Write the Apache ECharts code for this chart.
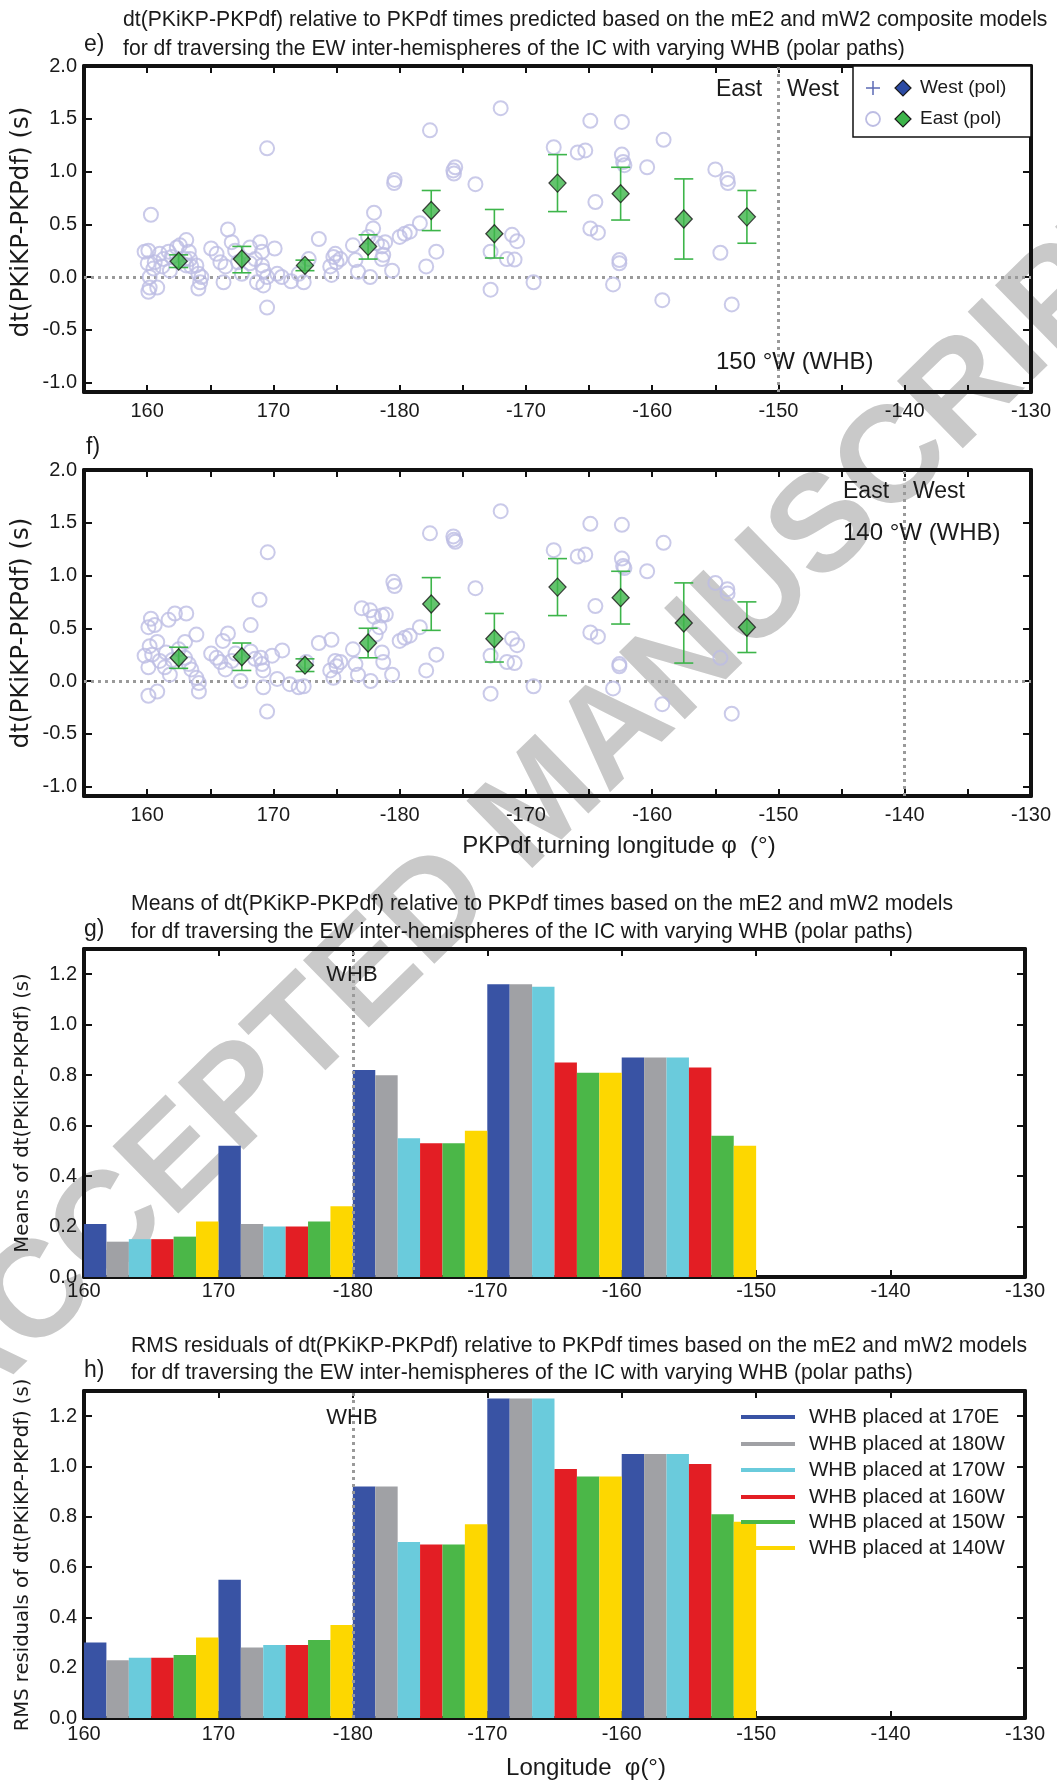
<!DOCTYPE html>
<html><head><meta charset="utf-8">
<script src="https://cdn.jsdelivr.net/npm/echarts@6/dist/echarts.min.js"></script>
<style>html,body{margin:0;padding:0;background:#fff}#c{width:1057px;height:1782px}</style>
</head><body><div id="c"></div>
<script>
// ---------------- DATA ----------------
// longitudes are continuous (0-360): 190 means -170 on the axis
const scatterE = [
 [169.5,1.22],[160.3,0.59],[159.8,0.24],[160.1,0.25],[160.05,0.13],[160.6,0.14],[161.0,0.22],[161.3,0.17],[161.7,0.24],[161.95,0.19],
 [162.35,0.28],[162.6,0.30],[163.1,0.35],[163.3,0.24],[163.4,0.17],[163.5,0.10],[163.9,0.11],[164.06,0.03],[164.3,0.0],[164.2,-0.05],
 [164.06,-0.11],[160.2,0.0],[160.2,-0.10],[160.1,-0.14],[160.8,-0.10],[160.5,0.08],[161.2,0.10],[161.8,0.06],[163.0,0.17],[163.1,0.11],
 [165.07,0.27],[165.5,0.22],[165.8,0.14],[166.2,0.10],[166.4,0.45],[166.7,0.33],[166.97,0.25],[167.2,0.14],[167.5,0.03],[166.05,-0.05],
 [168.15,0.28],[168.15,0.13],[168.55,0.17],[168.95,0.33],[169.1,0.24],[169.1,0.11],[169.2,0.06],[168.7,-0.05],[169.2,-0.08],[169.5,0.0],
 [170.1,0.27],[170.3,0.03],[170.66,0.0],[169.5,-0.29],[171.4,-0.04],[172.0,0.03],
 [172.4,-0.05],[172.8,0.17],[173.6,0.36],[174.5,0.10],[174.6,0.02],[174.75,0.19],[175.0,0.14],[174.9,0.22],[175.3,0.17],[176.3,0.30],
 [176.5,0.16],[176.7,0.05],[177.66,0.0],[177.5,0.38],[177.9,0.46],[177.97,0.61],[178.2,0.32],[178.6,0.29],[178.85,0.33],[178.7,0.21],
 [178.6,0.17],[179.4,0.06],[179.6,0.92],[179.56,0.89],[180.0,0.38],[180.4,0.41],[180.8,0.43],[181.6,0.51],[182.1,0.10],[182.9,0.24],
 [182.4,1.39],[184.25,1.01],[184.3,0.98],[184.4,1.04],
 [188.0,1.60],[186.0,0.88],[188.9,0.40],[189.3,0.34],[187.2,0.24],[188.5,0.17],[189.1,0.165],[187.2,-0.12],[190.6,-0.05],[192.2,1.23],
 [194.1,1.18],[194.7,1.20],[195.1,1.48],[197.6,1.47],[195.5,0.71],[195.1,0.46],[195.7,0.42],[197.6,1.16],[197.7,1.09],[197.8,1.06],
 [197.4,0.16],[197.4,0.13],[196.9,-0.07],
 [200.9,1.30],[199.6,1.04],[205.0,1.02],[205.95,0.93],[206.0,0.89],[205.4,0.23],[200.8,-0.22],[206.3,-0.26]
];
const scatterF = [
 [168.9,0.77],[160.3,0.59],[160.1,0.51],[160.6,0.53],[161.7,0.58],[162.2,0.64],[163.1,0.64],[163.9,0.44],[163.0,0.37],[160.2,0.33],
 [160.8,0.37],[159.8,0.24],[160.4,0.25],[160.1,0.13],[161.0,0.19],[161.4,0.13],[161.8,0.06],[163.0,0.22],[163.3,0.16],[163.5,0.11],
 [163.9,0.03],[164.1,-0.02],[164.1,-0.10],[160.1,-0.14],[160.8,-0.10],[161.5,0.27],[162.5,0.30],[162.0,0.20],
 [165.07,0.26],[165.5,0.22],[166.0,0.38],[166.4,0.45],[165.8,0.18],[166.2,0.11],[166.7,0.19],[167.0,0.26],[167.4,0.0],[168.2,0.53],
 [168.2,0.28],[168.55,0.21],[169.0,0.22],[169.1,0.16],[169.2,0.10],[169.2,-0.06],[169.5,-0.29],[169.9,0.24],[170.3,0.02],[170.7,0.29],
 [171.3,-0.03],[169.55,1.22],[172.0,-0.06],
 [172.4,-0.05],[172.6,0.18],[173.6,0.36],[174.6,0.39],[174.5,0.10],[174.75,0.03],[174.9,0.19],[175.0,0.14],[175.3,0.18],[176.3,0.30],
 [176.5,0.16],[176.7,0.06],[177.7,0.0],[177.0,0.69],[177.66,0.67],[177.97,0.61],[178.6,0.62],[178.9,0.63],[178.4,0.51],[178.1,0.44],
 [178.6,0.27],[178.7,0.18],[179.4,0.06],[179.5,0.94],[179.6,0.90],[180.0,0.38],[180.4,0.41],[180.8,0.43],[181.6,0.51],[182.1,0.10],
 [182.9,0.25],[182.4,1.40],[184.25,1.37],[184.3,1.34],[184.4,1.32],
 [188.0,1.61],[186.0,0.88],[188.9,0.40],[189.3,0.34],[187.2,0.24],[188.5,0.18],[189.1,0.17],[187.2,-0.12],[190.6,-0.05],[192.2,1.24],
 [194.1,1.18],[194.7,1.20],[195.1,1.49],[197.6,1.48],[195.5,0.71],[195.1,0.46],[195.7,0.42],[197.6,1.16],[197.7,1.09],[197.8,1.07],
 [197.4,0.16],[197.4,0.14],[196.9,-0.07],
 [200.9,1.31],[199.6,1.04],[205.0,0.93],[205.95,0.87],[205.97,0.83],[205.4,0.22],[200.8,-0.22],[206.3,-0.31]
];
const binCenters = [162.5,167.5,172.5,177.5,182.5,187.5,192.5,197.5,202.5,207.5];
const meanE  = [0.15,0.17,0.11,0.29,0.63,0.41,0.89,0.79,0.55,0.57];
const errLoE = [0.09,0.04,0.06,0.17,0.44,0.18,0.62,0.54,0.17,0.32];
const errHiE = [0.21,0.29,0.16,0.40,0.82,0.64,1.16,1.04,0.93,0.82];
const meanF  = [0.22,0.23,0.15,0.36,0.73,0.40,0.89,0.79,0.55,0.51];
const errLoF = [0.12,0.10,0.09,0.22,0.48,0.18,0.62,0.54,0.17,0.27];
const errHiF = [0.32,0.36,0.21,0.50,0.98,0.64,1.16,1.04,0.93,0.75];
const whbE = 210, whbF = 220, whbGH = 180;

const binStarts = [160,170,180,190,200];
const whbNames = ['WHB placed at 170E','WHB placed at 180W','WHB placed at 170W','WHB placed at 160W','WHB placed at 150W','WHB placed at 140W'];
const mean170E = [0.21,0.52,0.82,1.16,0.87];
const mean180W = [0.14,0.21,0.80,1.16,0.87];
const mean170W = [0.15,0.20,0.55,1.15,0.87];
const mean160W = [0.15,0.20,0.53,0.85,0.83];
const mean150W = [0.16,0.22,0.53,0.81,0.56];
const mean140W = [0.22,0.28,0.58,0.81,0.52];
const rms170E = [0.30,0.55,0.92,1.27,1.05];
const rms180W = [0.23,0.28,0.92,1.27,1.05];
const rms170W = [0.24,0.29,0.70,1.27,1.05];
const rms160W = [0.24,0.29,0.69,0.99,1.01];
const rms150W = [0.25,0.31,0.69,0.96,0.81];
const rms140W = [0.32,0.37,0.77,0.96,0.78];

const xLabelsEF = [160,170,180,190,200,210,220,230];
const xTicksEF  = [160,165,170,175,180,185,190,195,200,205,210,215,220,225];
const xTicksGH  = [160,170,180,190,200,210,220,230];
const yTicksEF  = [-1.0,-0.5,0.0,0.5,1.0,1.5,2.0];
const yTicksGH  = [0.0,0.2,0.4,0.6,0.8,1.0,1.2];

// ---------------- STYLE ----------------
const FF = '"Liberation Sans", Arial, Helvetica, sans-serif';
const FW = '"DejaVu Sans", Verdana, sans-serif';
const COLORS = ['#3953a4','#a0a1a5','#6acbdc','#e31e24','#4bb748','#fdd700'];
const LAV = '#bdbde3';
const GREEN = '#3db54a';
const INK = '#111';
const xfmt = v => String(Math.round(v < 180 ? v : v - 360));
const yfmt = v => Number(v).toFixed(1);

const grids = [
  {left:84, top:66,   width:947, height:326},
  {left:84, top:470,  width:947, height:326},
  {left:84, top:949,  width:941, height:328},
  {left:84, top:1391, width:941, height:327}
].map(g => Object.assign({outerBoundsMode:'none', containLabel:false}, g));

function mkX(gi, pos, min, max, labels, ticks, show, margin) {
  return {type:'value', gridIndex:gi, position:pos, min:min, max:max,
    axisLine:{show:true, onZero:false, lineStyle:{color:INK, width:4}},
    axisTick:{show:true, inside:true, length:7, lineStyle:{color:INK, width:2}, customValues:ticks},
    axisLabel:{show:show, customValues:labels, formatter:xfmt, fontSize:20, color:'#1a1a1a', fontFamily:FF, margin:margin},
    splitLine:{show:false}};
}
function mkY(gi, pos, min, max, ticks, show) {
  return {type:'value', gridIndex:gi, position:pos, min:min, max:max,
    axisLine:{show:true, onZero:false, lineStyle:{color:INK, width:4}},
    axisTick:{show:true, inside:true, length:8, lineStyle:{color:INK, width:2}, customValues:ticks},
    axisLabel:{show:show, customValues:ticks, formatter:yfmt, fontSize:20, color:'#1a1a1a', fontFamily:FF, margin:7},
    splitLine:{show:false}};
}
const xAxes = [], yAxes = [];
[[155,230,xLabelsEF,xTicksEF,9],[155,230,xLabelsEF,xTicksEF,9],[160,230,xTicksGH,xTicksGH,4],[160,230,xTicksGH,xTicksGH,6]].forEach((a,i)=>{
  xAxes.push(mkX(i,'bottom',a[0],a[1],a[2],a[3],true,a[4]));
  xAxes.push(mkX(i,'top',a[0],a[1],a[2],a[3],false,a[4]));
});
[[-1.09,2.0,yTicksEF],[-1.09,2.0,yTicksEF],[0,1.3,yTicksGH],[0,1.3,yTicksGH]].forEach((a,i)=>{
  yAxes.push(mkY(i,'left',a[0],a[1],a[2],true));
  yAxes.push(mkY(i,'right',a[0],a[1],a[2],false));
});

const dotted = {color:'#9a9a9a', type:[3,4], width:3};
const series = [];

function scatterPanel(gi, pts, means, lo, hi, whb) {
  const xi = gi*2, yi = gi*2;
  series.push({type:'scatter', xAxisIndex:xi, yAxisIndex:yi, data:pts, symbol:'circle', symbolSize:14,
    itemStyle:{color:'rgba(0,0,0,0)', borderColor:LAV, borderWidth:2}, z:3, silent:true,
    markLine:{silent:true, symbol:['none','none'], label:{show:false}, lineStyle:dotted, z:2,
      data:[{yAxis:0},{xAxis:whb}]}});
  series.push({type:'custom', xAxisIndex:xi, yAxisIndex:yi, z:4, silent:true,
    data: binCenters.map((c,i)=>[c, lo[i], hi[i]]),
    encode:{x:0, y:[1,2]},
    renderItem(params, api){
      const x = api.value(0);
      const pl = api.coord([x, api.value(1)]), ph = api.coord([x, api.value(2)]);
      const cw = 9.5, st = {stroke:GREEN, lineWidth:1.6};
      return {type:'group', children:[
        {type:'line', shape:{x1:pl[0], y1:pl[1], x2:ph[0], y2:ph[1]}, style:st},
        {type:'line', shape:{x1:pl[0]-cw, y1:pl[1], x2:pl[0]+cw, y2:pl[1]}, style:st},
        {type:'line', shape:{x1:ph[0]-cw, y1:ph[1], x2:ph[0]+cw, y2:ph[1]}, style:st}
      ]};
    }});
  series.push({type:'scatter', xAxisIndex:xi, yAxisIndex:yi, z:5, silent:true,
    data: binCenters.map((c,i)=>[c, means[i]]), symbol:'diamond', symbolSize:[17,18],
    itemStyle:{color:GREEN, borderColor:'#1a1a1a', borderWidth:1.3}});
}
scatterPanel(0, scatterE, meanE, errLoE, errHiE, whbE);
scatterPanel(1, scatterF, meanF, errLoF, errHiF, whbF);

function barPanel(gi, sets) {
  sets.forEach((vals, k) => {
    const s = {type:'custom', xAxisIndex:gi*2, yAxisIndex:gi*2, z:3, silent:true,
      data: binStarts.map((b,i)=>[b, vals[i]]),
      encode:{x:0, y:1},
      renderItem(params, api){
        const b = api.value(0), v = api.value(1), w = 10/6;
        const p0 = api.coord([b + k*w, v]), p1 = api.coord([b + (k+1)*w, 0]);
        return {type:'rect', shape:{x:p0[0], y:p0[1], width:p1[0]-p0[0], height:p1[1]-p0[1]}, style:{fill:COLORS[k]}};
      }};
    if (k === sets.length-1) {
      s.markLine = {silent:true, symbol:['none','none'], label:{show:false}, lineStyle:dotted, data:[{xAxis:whbGH}]};
    }
    series.push(s);
  });
}
barPanel(2, [mean170E,mean180W,mean170W,mean160W,mean150W,mean140W]);
barPanel(3, [rms170E,rms180W,rms170W,rms160W,rms150W,rms140W]);

// ---------------- TEXT / DECORATION ----------------
function T(x, y, text, size, opt) {
  opt = opt || {};
  return {type:'text', x:x, y:y, rotation:opt.rot||0, z:opt.z||50, silent:true,
    style:{text:text, font:(opt.weight||'normal')+' '+size+'px '+(opt.ff||FF), fill:opt.fill||'#1a1a1a',
      align:opt.align||'left', verticalAlign:'middle'}};
}
const graphics = [];
// watermark (behind)
graphics.push({type:'text', x:543, y:805, rotation:0.773, z:-10, silent:true,
  style:{text:'ACCEPTED MANUSCRIPT', font:'bold 137px '+FF, fill:'#c9c9c9', align:'center', verticalAlign:'middle'}});
// titles
graphics.push(T(123, 20, 'dt(PKiKP-PKPdf) relative to PKPdf times predicted based on the mE2 and mW2 composite models', 21.2));
graphics.push(T(123, 49, 'for df traversing the EW inter-hemispheres of the IC with varying WHB (polar paths)', 21.2));
graphics.push(T(84, 45, 'e)', 23));
graphics.push(T(86, 448, 'f)', 23));
graphics.push(T(131, 904, 'Means of dt(PKiKP-PKPdf) relative to PKPdf times based on the mE2 and mW2 models', 21.2));
graphics.push(T(131, 932, 'for df traversing the EW inter-hemispheres of the IC with varying WHB (polar paths)', 21.2));
graphics.push(T(84, 930, 'g)', 23));
graphics.push(T(131, 1346, 'RMS residuals of dt(PKiKP-PKPdf) relative to PKPdf times based on the mE2 and mW2 models', 21.2));
graphics.push(T(131, 1373, 'for df traversing the EW inter-hemispheres of the IC with varying WHB (polar paths)', 21.2));
graphics.push(T(84, 1371, 'h)', 23));
// axis names
graphics.push(T(22, 222, 'dt(PKiKP-PKPdf) (s)', 24.5, {rot:Math.PI/2, align:'center', ff:FW}));
graphics.push(T(22, 633, 'dt(PKiKP-PKPdf) (s)', 24.5, {rot:Math.PI/2, align:'center', ff:FW}));
graphics.push(T(23, 1113, 'Means of dt(PKiKP-PKPdf) (s)', 19.6, {rot:Math.PI/2, align:'center', ff:FW}));
graphics.push(T(23, 1555, 'RMS residuals of dt(PKiKP-PKPdf) (s)', 19.6, {rot:Math.PI/2, align:'center', ff:FW}));
graphics.push(T(619, 846, 'PKPdf turning longitude φ  (°)', 24, {align:'center'}));
graphics.push(T(586, 1768, 'Longitude  φ(°)', 24, {align:'center'}));
// annotations
graphics.push(T(716, 90, 'East', 23));
graphics.push(T(787, 90, 'West', 23));
graphics.push(T(716, 362, '150 °W (WHB)', 24));
graphics.push(T(843, 492, 'East', 23));
graphics.push(T(913, 492, 'West', 23));
graphics.push(T(843, 533, '140 °W (WHB)', 24));
graphics.push(T(352, 975, 'WHB', 22, {align:'center'}));
graphics.push(T(352, 1418, 'WHB', 22, {align:'center'}));
// legend e
graphics.push({type:'rect', z:40, silent:true, shape:{x:853, y:66, width:178, height:71}, style:{fill:'#fff', stroke:INK, lineWidth:1.5}});
graphics.push({type:'line', z:41, silent:true, shape:{x1:866,y1:88,x2:880,y2:88}, style:{stroke:'#5b6ab5', lineWidth:1.5}});
graphics.push({type:'line', z:41, silent:true, shape:{x1:873,y1:81,x2:873,y2:95}, style:{stroke:'#5b6ab5', lineWidth:1.5}});
graphics.push({type:'polygon', z:41, silent:true, shape:{points:[[903,80],[911,88],[903,96],[895,88]]}, style:{fill:'#2b4aa3', stroke:'#1a1a1a', lineWidth:1.2}});
graphics.push(T(920, 88, 'West (pol)', 19, {z:42}));
graphics.push({type:'circle', z:41, silent:true, shape:{cx:873, cy:119, r:7}, style:{fill:'none', stroke:LAV, lineWidth:1.8}});
graphics.push({type:'polygon', z:41, silent:true, shape:{points:[[903,111],[911,119],[903,127],[895,119]]}, style:{fill:GREEN, stroke:'#1a1a1a', lineWidth:1.2}});
graphics.push(T(920, 119, 'East (pol)', 19, {z:42}));
// legend h
const legY = [1417,1444,1470,1497,1522,1548];
whbNames.forEach((n,k)=>{
  graphics.push({type:'line', z:41, silent:true, shape:{x1:741,y1:legY[k],x2:795,y2:legY[k]}, style:{stroke:COLORS[k], lineWidth:4}});
  graphics.push(T(809, legY[k], n, 20.5, {z:42}));
});

const chart = echarts.init(document.getElementById('c'), null, {renderer:'canvas'});
chart.setOption({
  animation:false,
  backgroundColor:'#fff',
  grid:grids, xAxis:xAxes, yAxis:yAxes, series:series, graphic:{elements:graphics}
});
</script></body></html>
